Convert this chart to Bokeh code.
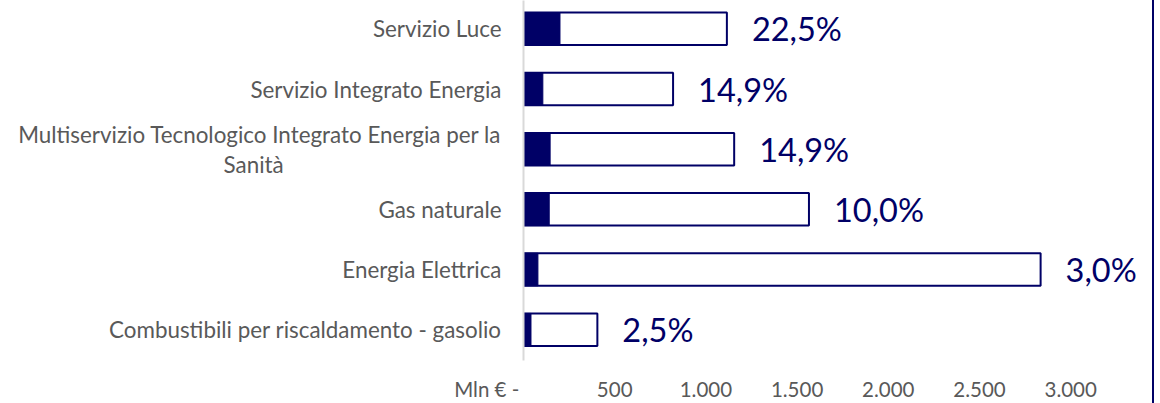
from bokeh.plotting import figure
from bokeh.models import Range1d, FixedTicker, ColumnDataSource
from bokeh.embed import file_html
from bokeh.resources import INLINE
from bokeh.core.properties import value

NB = "\u00a0"

# ---------------- data ----------------
categories = [
    "Servizio Luce",
    "Servizio Integrato Energia",
    "Multiservizio Tecnologico Integrato Energia per la\nSanità",
    "Gas naturale",
    "Energia Elettrica",
    "Combustibili per riscaldamento - gasolio",
]
totals = [1115, 820, 1155, 1565, 2835, 405]       # Mln €, outline bars
filled = [200, 106, 146, 141, 79, 41]             # Mln €, filled part
pct_labels = ["22,5%", "14,9%", "14,9%", "10,0%", "3,0%", "2,5%"]
x_ticks = [0, 500, 1000, 1500, 2000, 2500, 3000]
x_tick_labels = ["Mln € -", "500", "1.000", "1.500", "2.000", "2.500", "3.000"]

NAVY = "#000066"
GREY = "#595959"
FONT = "Lato"

n = len(categories)
ypos = [n - 1 - i for i in range(n)]

src = ColumnDataSource(dict(y=ypos, total=totals, filled=filled, pct=pct_labels))

X_END = 3421
Y_START, Y_END = -0.512, 5.471

p = figure(width=1154, height=403, output_backend="svg", toolbar_location=None,
           x_range=Range1d(0, X_END), y_range=Range1d(Y_START, Y_END),
           min_border_left=523, min_border_right=7, min_border_top=0,
           min_border_bottom=41)
p.outline_line_color = None
p.grid.grid_line_color = None
p.background_fill_color = "white"
p.border_fill_color = "white"
p.styles = {"border-right": "2px solid " + NAVY}

BAR_H = 0.54
p.hbar(y="y", left=0, right="total", height=BAR_H, source=src,
       fill_color="white", line_color=NAVY, line_width=2)
p.hbar(y="y", left=0, right="filled", height=BAR_H, source=src,
       fill_color=NAVY, line_color=NAVY, line_width=1)

p.text(x="total", y="y", text="pct", source=src, x_offset=25,
       text_align="left", text_baseline="middle",
       text_font=value(FONT), text_font_size="32.5px", text_color=NAVY)

# x axis (Excel accounting format: zero shown as "-", unit before it)
xa = p.xaxis[0]
xa.ticker = FixedTicker(ticks=x_ticks)
x_over = {t: l for t, l in zip(x_ticks, x_tick_labels)}
x_over[0] = x_tick_labels[0] + NB * 14
xa.major_label_overrides = x_over
xa.axis_line_color = None
xa.major_tick_line_color = None
xa.minor_tick_line_color = None
xa.major_tick_out = 0
xa.major_label_standoff = 16
xa.major_label_text_font = FONT
xa.major_label_text_font_size = "20.5px"
xa.major_label_text_color = GREY

# y axis (wrapped label: second line centred under the first)
ya = p.yaxis[0]
ya.ticker = FixedTicker(ticks=ypos)
y_over = {}
for y, c in zip(ypos, categories):
    lines = c.split("\n")
    if len(lines) > 1:
        c = lines[0] + "\n" + lines[1] + NB * 38
    y_over[y] = c
ya.major_label_overrides = y_over
ya.axis_line_color = "#d9d9d9"
ya.axis_line_width = 2
ya.major_tick_line_color = None
ya.minor_tick_line_color = None
ya.major_tick_out = 0
ya.major_label_standoff = 22
ya.major_label_text_font = FONT
ya.major_label_text_font_size = "22.4px"
ya.major_label_text_color = GREY
ya.major_label_text_line_height = 1.1

open("out.html", "w").write(file_html(p, INLINE))
